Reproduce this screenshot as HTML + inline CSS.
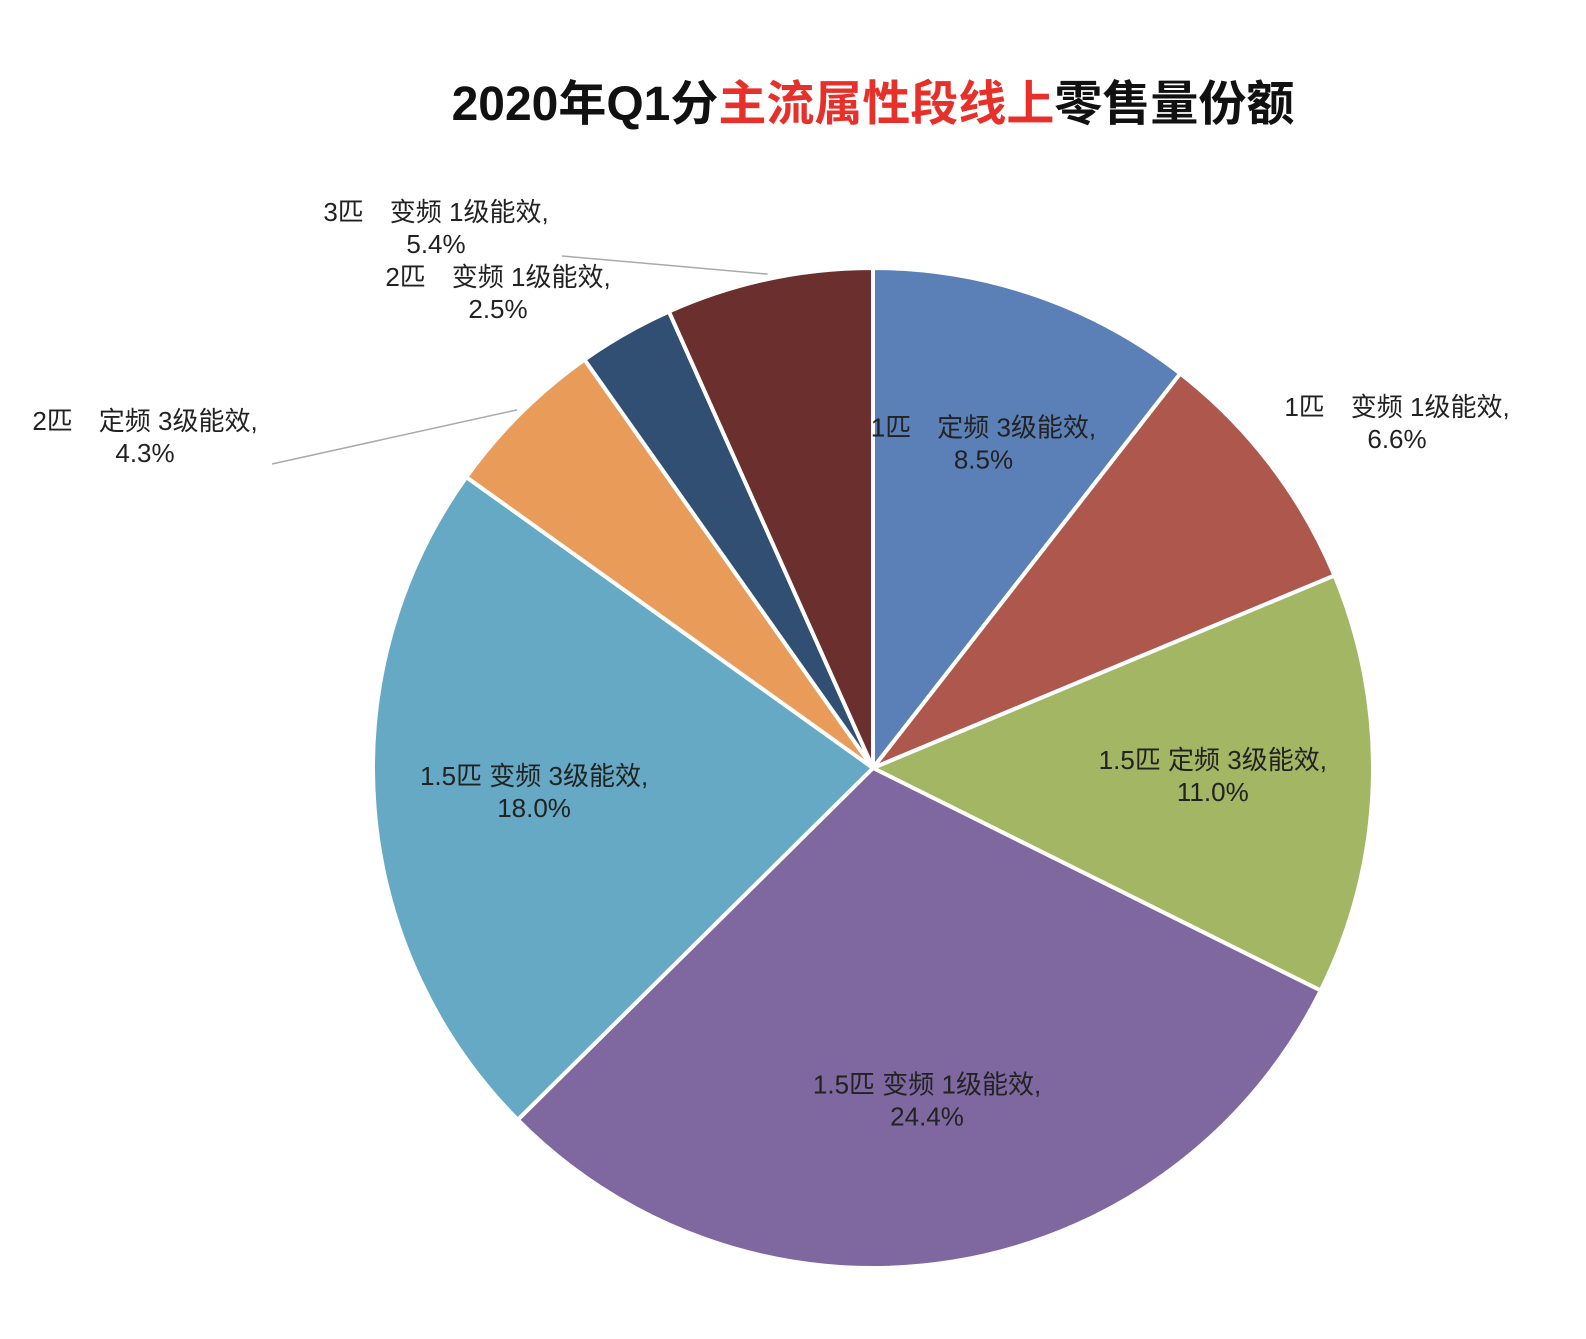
<!DOCTYPE html>
<html><head><meta charset="utf-8"><style>
html,body{margin:0;padding:0;background:#fff}
svg text{font-family:"Liberation Sans","Noto Sans CJK SC",sans-serif}
</style></head><body>
<svg width="1586" height="1334" viewBox="0 0 1586 1334" xmlns="http://www.w3.org/2000/svg">
<text x="873" y="120" text-anchor="middle" font-size="48" font-weight="bold" fill="#111">2020年Q1分<tspan fill="#e8302a">主流属性段线上</tspan>零售量份额</text>
<g id="slices"></g>
<g id="labels"></g>
</svg>
<script>
const categories=["1匹　定频 3级能效","1匹　变频 1级能效","1.5匹 定频 3级能效","1.5匹 变频 1级能效","1.5匹 变频 3级能效","2匹　定频 3级能效","2匹　变频 1级能效","3匹　变频 1级能效"];
const values=[8.5,6.6,11.0,24.4,18.0,4.3,2.5,5.4];
const valueLabels=["8.5%","6.6%","11.0%","24.4%","18.0%","4.3%","2.5%","5.4%"];
const colors=["#5b80b7","#ae584d","#a2b664","#7f67a0","#66a9c4","#e99b59","#314f73","#6b302d"];
const cx=873,cy=768,R=500;
const NS="http://www.w3.org/2000/svg";
const total=values.reduce((a,b)=>a+b,0);
const sg=document.getElementById('slices'),lg=document.getElementById('labels');
function pt(a,r){return [cx+r*Math.sin(a),cy-r*Math.cos(a)];}
let acc=0;
values.forEach((v,i)=>{
  const a0=acc/total*2*Math.PI; acc+=v; const a1=acc/total*2*Math.PI;
  const p0=pt(a0,R),p1=pt(a1,R);
  const path=document.createElementNS(NS,'path');
  path.setAttribute('d',`M${cx},${cy}L${p0[0]},${p0[1]}A${R},${R} 0 ${a1-a0>Math.PI?1:0} 1 ${p1[0]},${p1[1]}Z`);
  path.setAttribute('fill',colors[i]);path.setAttribute('stroke','#fff');path.setAttribute('stroke-width','4');
  
  
  sg.appendChild(path);
  const am=(a0+a1)/2;
  let lx,ly,outside=false;
  if(v/total<0.08){outside=true;}
  let pos;
  if(i===1){pos=[1397,416];}
  else if(i===5){pos=[145,430];}
  else if(i===6){pos=[498,286];}
  else if(i===7){pos=[436,221];}
  else{const p=pt(am,R*0.68);pos=[p[0],p[1]-10];}
  if(i===5||i===7){
    const e=pt(am,R*1.01);
    const ln=document.createElementNS(NS,'polyline');
    const sx=i===5?272:562, sy=i===5?464:256;
    ln.setAttribute('points',`${sx},${sy} ${e[0]},${e[1]}`);
    ln.setAttribute('fill','none');ln.setAttribute('stroke','#aaa');ln.setAttribute('stroke-width','1.5');
    
    
    lg.appendChild(ln);
  }
  const t=document.createElementNS(NS,'text');
  t.setAttribute('x',pos[0]);t.setAttribute('y',pos[1]);t.setAttribute('text-anchor','middle');
  t.setAttribute('font-size','26');t.setAttribute('fill','#222');
  
  
  const s1=document.createElementNS(NS,'tspan');s1.setAttribute('x',pos[0]);s1.textContent=categories[i]+',';
  const s2=document.createElementNS(NS,'tspan');s2.setAttribute('x',pos[0]);s2.setAttribute('dy','32');s2.textContent=valueLabels[i];
  t.appendChild(s1);t.appendChild(s2);lg.appendChild(t);
});
</script>
</body></html>
